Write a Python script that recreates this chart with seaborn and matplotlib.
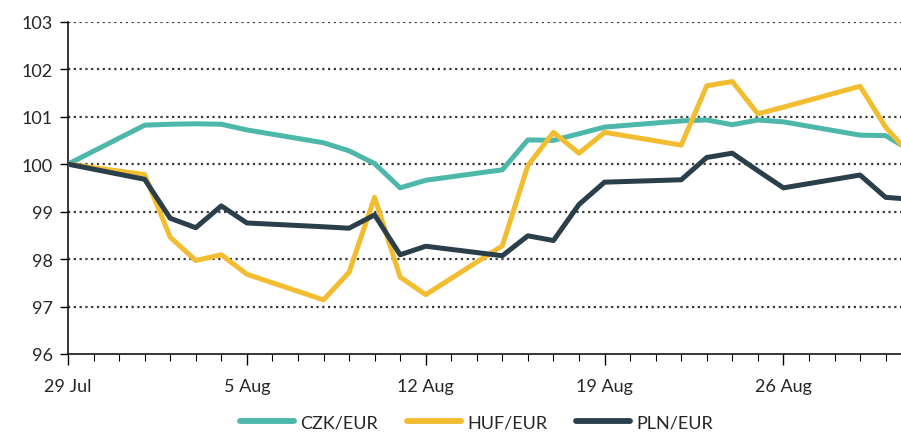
"""Indices CZK/EUR, HUF/EUR, PLN/EUR (29 Jul = 100)."""

import matplotlib

matplotlib.use("Agg")
import matplotlib.dates as mdates
import matplotlib.pyplot as plt
import pandas as pd
import seaborn as sns

START = pd.Timestamp("2019-07-29")
DAY_OFFSETS = [0, 3, 4, 5, 6, 7, 10, 11, 12, 13, 14, 17, 18, 19, 20, 21,
               24, 25, 26, 27, 28, 31, 32, 33]

CZK = [100.0, 100.82, 100.84, 100.85, 100.84, 100.72, 100.45, 100.28, 100.01,
       99.50, 99.66, 99.88, 100.51, 100.50, 100.64, 100.78, 100.91, 100.93,
       100.83, 100.93, 100.89, 100.61, 100.60, 100.28]
HUF = [100.0, 99.78, 98.46, 97.97, 98.09, 97.68, 97.14, 97.72, 99.30, 97.62,
       97.25, 98.28, 99.97, 100.67, 100.23, 100.67, 100.40, 101.65, 101.74,
       101.06, 101.20, 101.64, 100.78, 100.18]
PLN = [100.0, 99.68, 98.86, 98.66, 99.12, 98.76, 98.68, 98.65, 98.93, 98.09,
       98.27, 98.07, 98.49, 98.39, 99.15, 99.62, 99.67, 100.14, 100.23, 99.86,
       99.50, 99.77, 99.30, 99.26]

SERIES = {"CZK/EUR": CZK, "HUF/EUR": HUF, "PLN/EUR": PLN}
COLORS = {"CZK/EUR": "#4db8a9", "HUF/EUR": "#f2bd31", "PLN/EUR": "#2b3f4a"}
Y_TICKS = [96, 97, 98, 99, 100, 101, 102, 103]
X_LABEL_DATES = ["2019-07-29", "2019-08-05", "2019-08-12", "2019-08-19", "2019-08-26"]


def build_frame():
    dates = [START + pd.Timedelta(days=d) for d in DAY_OFFSETS]
    rows = []
    for name, values in SERIES.items():
        for date, value in zip(dates, values):
            rows.append({"date": date, "value": value, "series": name})
    return pd.DataFrame(rows)


def main():
    sns.set_style("white")
    plt.rcParams["font.family"] = ["Lato", "DejaVu Sans"]

    df = build_frame()

    fig = plt.figure(figsize=(9.01, 4.35), dpi=100)
    ax = fig.add_axes([68 / 901, 1 - 355 / 435, 1 - 68 / 901, (355 - 22.7) / 435])

    for y in Y_TICKS[1:]:
        ax.axhline(y, color="#3a3a3a", lw=1.6, ls=(0, (1, 1.6)), zorder=1)

    sns.lineplot(
        data=df,
        x="date",
        y="value",
        hue="series",
        palette=COLORS,
        linewidth=3.6,
        ax=ax,
        legend=False,
        zorder=3,
    )

    ax.set_ylim(96, 103)
    ax.set_yticks(Y_TICKS)
    ax.set_xlim(START, START + pd.Timedelta(days=(901 - 68) / 25.55))
    ax.xaxis.set_major_formatter(mdates.DateFormatter("%-d %b"))
    ax.xaxis.set_minor_locator(mdates.DayLocator())
    ax.set_xticks(pd.to_datetime(X_LABEL_DATES))

    ax.set_xlabel("")
    ax.set_ylabel("")
    for side in ("top", "right"):
        ax.spines[side].set_visible(False)
    for side in ("left", "bottom"):
        ax.spines[side].set_color("black")
        ax.spines[side].set_linewidth(1.1)

    ax.tick_params(axis="y", which="major", direction="out", length=6, width=1,
                   color="black", labelsize=13, pad=5, left=True)
    ax.tick_params(axis="x", which="major", direction="out", length=8, width=1,
                   color="black", labelsize=13, pad=9, bottom=True)
    ax.tick_params(axis="x", which="minor", direction="out", length=5, width=0.8,
                   color="black", bottom=True)

    handles = [
        plt.Line2D([], [], color=COLORS[name], lw=4.2, solid_capstyle="round")
        for name in SERIES
    ]
    fig.legend(
        handles,
        list(SERIES),
        loc="center",
        bbox_to_anchor=(0.529, 0.026),
        ncol=3,
        frameon=False,
        fontsize=13,
        handlelength=3.0,
        handletextpad=0.35,
        columnspacing=1.6,
        borderpad=0.1,
    )

    fig.savefig("out.png", dpi=100)
    plt.close(fig)


if __name__ == "__main__":
    main()
